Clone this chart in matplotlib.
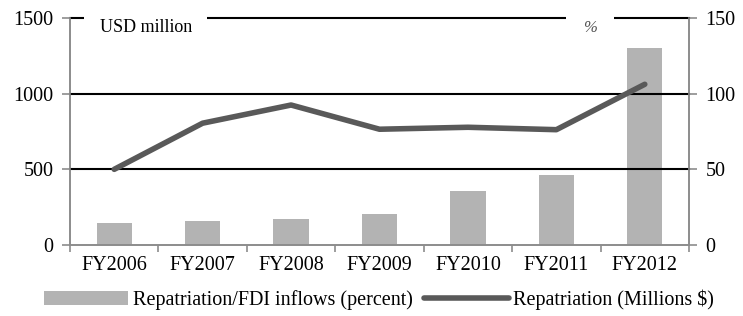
import numpy as np
import matplotlib
matplotlib.use("Agg")
import matplotlib.pyplot as plt

plt.rcParams["font.family"] = ["Liberation Serif", "DejaVu Serif"]

years = ["FY2006", "FY2007", "FY2008", "FY2009", "FY2010", "FY2011", "FY2012"]
share_pct = [14.3, 15.7, 17.2, 20.5, 36.0, 46.3, 130.0]
repatriation_musd = [500, 805, 925, 765, 778, 762, 1062]

bar_col = "#b3b3b3"
line_col = "#595959"
spine_col = "#8c8c8c"

fig = plt.figure(figsize=(7.43, 3.16), dpi=100)
ax = fig.add_axes([70 / 743, 1 - 245 / 316, 619 / 743, 227 / 316])
ax2 = ax.twinx()

x = np.arange(len(years))
ax2.bar(x, share_pct, width=0.4, color=bar_col, zorder=2,
        label="Repatriation/FDI inflows (percent)")
ax.plot(x, repatriation_musd, color=line_col, lw=4, solid_capstyle="round",
        zorder=5, label="Repatriation (Millions $)")

# line on top of bars
ax.set_zorder(ax2.get_zorder() + 1)
ax.patch.set_visible(False)

ax.set_xlim(-0.5, len(years) - 0.5)
ax.set_ylim(0, 1500)
ax2.set_ylim(0, 150)
ax.set_yticks([0, 500, 1000, 1500])
ax2.set_yticks([0, 50, 100, 150])

for yv in [500, 1000, 1500]:
    ax.axhline(yv, color="black", lw=1.5, zorder=1, clip_on=False)

ax.set_xticks(x)
ax.set_xticklabels(years)
ax.set_xticks(np.arange(-0.5, len(years)), minor=True)
ax.tick_params(axis="x", which="major", length=0, labelsize=14.5, pad=8)
ax.tick_params(axis="x", which="minor", length=5, color=spine_col, width=1.2)
ax.tick_params(axis="y", length=6, color=spine_col, width=1.2, labelsize=14.5, pad=6)
ax2.tick_params(axis="y", length=6, color=spine_col, width=1.2, labelsize=14.5, pad=6)

for a in (ax, ax2):
    for s in ["left", "right", "bottom"]:
        a.spines[s].set_color(spine_col)
        a.spines[s].set_linewidth(1.2)
    a.spines["top"].set_visible(False)

ax.text(0.048, 0.96, "USD million", transform=ax.transAxes, fontsize=13,
        ha="left", va="center", zorder=6,
        bbox=dict(facecolor="white", edgecolor="none", pad=11))
ax.text(0.84, 0.955, "%", transform=ax.transAxes, fontsize=12,
        ha="center", va="center", color="#555555", style="italic", zorder=6,
        bbox=dict(facecolor="white", edgecolor="none", pad=12))

h1, l1 = ax2.get_legend_handles_labels()
h2, l2 = ax.get_legend_handles_labels()
fig.legend(h1 + h2, l1 + l2, loc="center", bbox_to_anchor=(0.51, 1 - 300 / 316),
           ncol=2, frameon=False, fontsize=14.5, handlelength=4.2,
           handletextpad=0.2, columnspacing=0.6)

fig.savefig("out.png", dpi=100)
